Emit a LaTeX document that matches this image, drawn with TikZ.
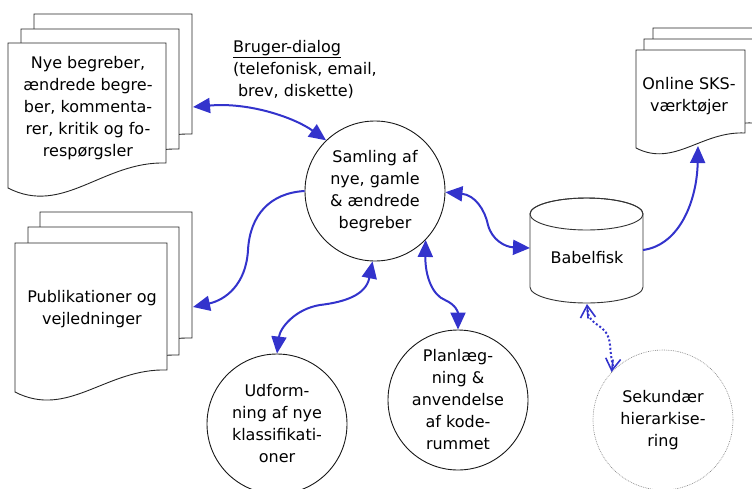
\documentclass[tikz,border=0pt]{standalone}
\usepackage{fontspec}
\setmainfont{DejaVu Sans}
\usetikzlibrary{arrows.meta}
\definecolor{flowblue}{RGB}{51,51,204}
\tikzset{
  sheet/.style={draw=black!85, fill=white, line width=0.9pt, line join=miter},
  txt/.style={align=center, inner sep=0pt, font=\fontsize{16}{22}\selectfont},
  proc/.style={txt, circle, draw=black!90, line width=0.9pt, fill=white, minimum size=140pt},
  flow/.style={draw=flowblue, line width=2pt},
  biarrow/.style={flow, {Triangle[length=17pt,width=15pt]}-{Triangle[length=17pt,width=15pt]}},
  uniarrow/.style={flow, -{Triangle[length=17pt,width=15pt]}},
  dotline/.style={draw=flowblue, line width=2pt, dash pattern=on 2pt off 2.2pt, shorten <=6pt, shorten >=6pt},
  barbtip/.style={draw=flowblue, line width=1.6pt, solid, line cap=round,
    -{Straight Barb[length=12pt,width=15pt,line width=1.6pt]}}
}
% one sheet of a document stack: left, top, right, bottom at right, bottom at left
\newcommand{\docsheet}[5]{%
  \filldraw[sheet] (#1,#2) -- (#3,#2) -- (#3,#4)
    .. controls ({#3-0.4*(#3-#1)},{#4-2}) and ({#1+0.35*(#3-#1)},{#5+0.18*(#3-#1)}) .. (#1,#5) -- cycle;}
\begin{document}
\begin{tikzpicture}[x=1pt,y=-1pt]
\useasboundingbox (0,0) rectangle (752,488);
\clip (0,0) rectangle (752,488);

% document stacks
\docsheet{34}{14}{192}{134}{159}
\docsheet{21}{29}{179}{149}{174}
\docsheet{8}{43}{166}{163}{188}
\node[txt] (doca) at (88,108) {Nye begreber,\\ændrede begre-\\ber, kommenta-\\rer, kritik og fo-\\respørgsler};

\docsheet{40}{212}{192}{338}{360}
\docsheet{28}{227}{179}{355}{377}
\docsheet{15}{243}{167}{370}{392}
\node[txt] (docb) at (92,309) {Publikationer og\\vejledninger};

\docsheet{653}{28}{762}{113}{128}
\docsheet{644}{39}{753}{123}{138}
\docsheet{636}{50}{745}{133}{148}
\node[txt] (docc) at (689,96) {Online SKS-\\værktøjer};

% processes
\node[proc] (samling) at (375,191) {Samling af\\nye, gamle\\\& ændrede\\begreber};
\node[proc] (udf) at (277,424) {Udform-\\ning af nye\\klassifikati-\\oner};
\node[proc] (plan) at (458,400) {Planlæg-\\ning \&\\anvendelse\\af kode-\\rummet};
\node[proc, draw=gray, line width=0.6pt, dash pattern=on 0.8pt off 1pt] (sek) at (663,420) {Sekundær\\hierarkise-\\ring};

% database drum
\filldraw[sheet, draw=black!80] (530,214) -- (530,287)
  arc[start angle=180, end angle=0, x radius=56.5, y radius=16] -- (643,214)
  arc[start angle=0, end angle=-180, x radius=56.5, y radius=16] -- cycle;
\draw[sheet, draw=black!80, fill=none] (586.5,214) ellipse[x radius=56.5, y radius=16];
\node[txt] (babel) at (587,258) {Babelfisk};

% dialog caption
\node[txt, align=left, anchor=north west] (dialog) at (233,40) {\underline{Bruger-dialog}\\(telefonisk, email,\\\hspace{0.3em}brev, diskette)};

% connector ends on the stacks and the database
\coordinate (docaport) at (193,107);
\coordinate (docbport) at (193,307);
\coordinate (doccport) at (698,146);
\coordinate (babelW) at (530,248);
\coordinate (babelE) at (643,250);
\coordinate (babelS) at (587,304);
\coordinate (sekN) at (sek.137);

% flows
\draw[biarrow] (docaport) .. controls (250,102) and (295,118) .. (samling.134);
\draw[uniarrow] (samling.180) .. controls (270,193) and (250,215) .. (248,250)
  .. controls (246,285) and (225,300) .. (docbport);
\draw[biarrow] (samling.-92) .. controls (366,295) and (345,302) .. (320,305)
  .. controls (295,309) and (280,328) .. (udf.90);
\draw[biarrow] (samling.-44) .. controls (425,275) and (432,295) .. (445,300)
  .. controls (456,305) and (458,312) .. (plan.90);
\draw[biarrow] (samling.-1) .. controls (475,195) and (485,210) .. (488,225)
  .. controls (492,240) and (505,247) .. (babelW);
\draw[uniarrow] (babelE) .. controls (680,245) and (697,200) .. (doccport);

% dotted link with open tips
\draw[dotline] (babelS) .. controls (589,328) and (608,322) .. (610,345)
  .. controls (611,358) and (613,368) .. (sekN);
\draw[barbtip] (588,318) -- (babelS);
\draw[barbtip] (613,360) -- (sekN);
\end{tikzpicture}
\end{document}
